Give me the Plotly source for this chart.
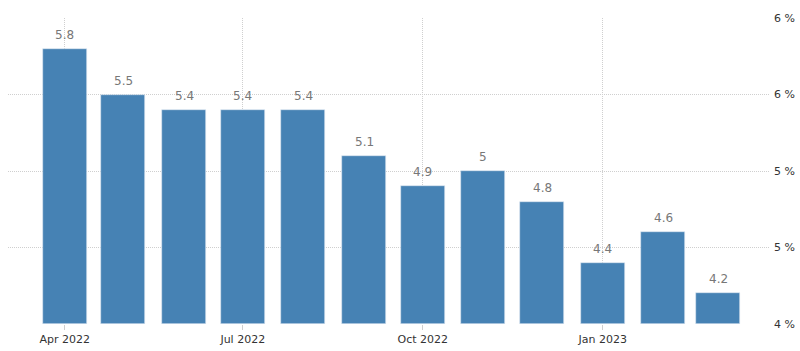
import plotly.graph_objects as go

months = ["2022-04-01", "2022-05-01", "2022-06-01", "2022-07-01", "2022-08-01", "2022-09-01",
          "2022-10-01", "2022-11-01", "2022-12-01", "2023-01-01", "2023-02-01", "2023-03-01"]
values = [5.8, 5.5, 5.4, 5.4, 5.4, 5.1, 4.9, 5.0, 4.8, 4.4, 4.6, 4.2]
labels = ["5.8", "5.5", "5.4", "5.4", "5.4", "5.1", "4.9", "5", "4.8", "4.4", "4.6", "4.2"]
y_tickvals = [4, 4.5, 5, 5.5, 6]
y_ticktext = ["4 %", "5 %", "5 %", "6 %", "6 %"]
x_tickvals = ["2022-04-01", "2022-07-01", "2022-10-01", "2023-01-01"]
x_ticktext = ["Apr 2022", "Jul 2022", "Oct 2022", "Jan 2023"]

DAY = 86400000
base = 4.0

fig = go.Figure()
fig.add_trace(go.Bar(
    x=months,
    y=[v - base for v in values],
    base=base,
    width=[22.5 * DAY] * len(months),
    marker=dict(color="#4682B4", line=dict(color="#dfe9f3", width=0.6)),
    hoverinfo="skip",
))

for m, v, t in zip(months, values, labels):
    fig.add_annotation(
        x=m, y=v, text=t, showarrow=False,
        yanchor="middle", yshift=14,
        font=dict(family="DejaVu Sans", size=12, color="#777777"),
    )

grid = "#cfcfcf"
fig.update_layout(
    width=800, height=351,
    margin=dict(l=8, r=31, t=18, b=27, autoexpand=False),
    paper_bgcolor="white", plot_bgcolor="white",
    showlegend=False,
    bargap=0,
    font=dict(family="DejaVu Sans", size=11, color="#333"),
)
fig.update_xaxes(
    type="date",
    range=["2022-03-03", "2023-03-27"],
    tickvals=x_tickvals, ticktext=x_ticktext,
    showgrid=True, gridcolor=grid, griddash="1px,1px", gridwidth=1,
    ticks="outside", ticklen=5, tickcolor=grid,
    showline=False, zeroline=False, automargin=False,
    tickfont=dict(family="DejaVu Sans", size=11, color="#333"),
)
fig.update_yaxes(
    range=[4, 6],
    side="right",
    tickvals=y_tickvals, ticktext=y_ticktext,
    showgrid=True, gridcolor=grid, griddash="1px,1px", gridwidth=1,
    zeroline=False, showline=False, automargin=False,
    ticks="", ticklabelstandoff=4,
    tickfont=dict(family="DejaVu Sans", size=11, color="#333"),
)

fig.write_html("out.html")
